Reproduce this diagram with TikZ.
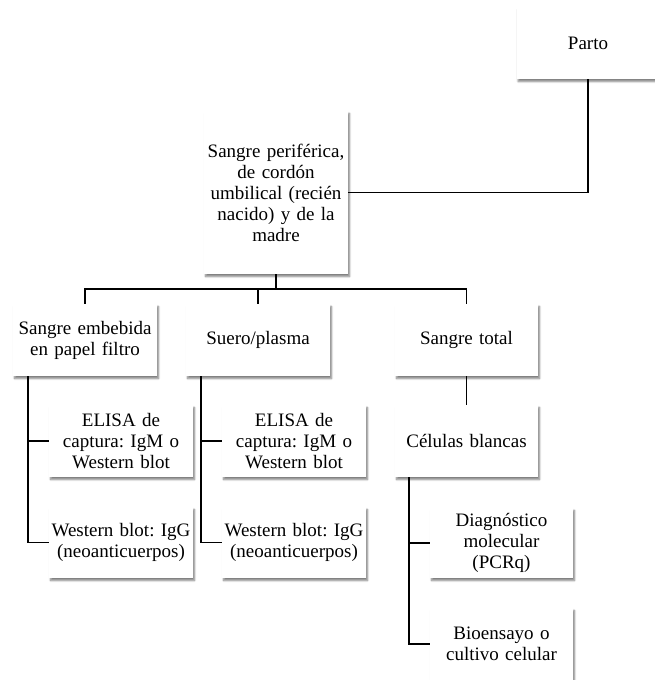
\documentclass[tikz,border=0pt]{standalone}
\usepackage{fontspec}
\setmainfont{Liberation Serif}
\usetikzlibrary{shadows.blur}
\frenchspacing
\begin{document}
\begin{tikzpicture}[x=1pt,y=-1pt,
  box/.style={rectangle, fill=white, inner sep=0pt, minimum width=144pt, minimum height=72pt,
    text width=143pt, align=center, font=\fontsize{19}{21}\selectfont\frenchspacing,
    blur shadow={shadow xshift=1.5pt, shadow yshift=-2.5pt, shadow blur steps=6, shadow blur extra rounding=0pt, shadow opacity=50}},
  link/.style={draw=black, line width=1.4pt}]
\useasboundingbox (0,0) rectangle (655,680);
\begin{scope}
\clip (0,0) rectangle (655,680);
% nodes
\node[box, minimum width=142pt] (parto) at (588,43) {Parto};
\node[box, minimum height=163pt] (main) at (276,192.5) {Sangre periférica,\\de cordón\\umbilical (recién\\nacido) y de la\\madre};
\node[box] (emb) at (85,340) {Sangre embebida\\en papel filtro};
\node[box] (suero) at (258,340) {Suero/plasma};
\node[box, minimum width=143pt] (total) at (466.5,340) {Sangre total};
\node[box, minimum width=143pt] (blancas) at (466.5,441) {Células blancas};
\node[box] (e1) at (121,441) {ELISA de\\captura: IgM o\\Western blot};
\node[box, minimum height=71pt] (e2) at (121,542.5) {Western blot: IgG\\(neoanticuerpos)};
\node[box] (s1) at (294,441) {ELISA de\\captura: IgM o\\Western blot};
\node[box, minimum height=71pt] (s2) at (294,542.5) {Western blot: IgG\\(neoanticuerpos)};
\node[box, minimum width=143pt, minimum height=70pt] (b1) at (501.5,543) {Diagnóstico\\molecular\\(PCRq)};
\node[box, minimum width=143pt] (b2) at (501.5,644) {Bioensayo o\\cultivo celular};
% connectors
\coordinate (bus) at (276,289);
\draw[link] (parto.south) |- (main.east);
\draw[link] (main.south) -- (bus);
\draw[link] (emb.north) |- (bus) -| (total.north);
\draw[link] (suero.north) -- (suero.north |- bus);
\draw[link] (total.south) -- (blancas.north);
\coordinate (ev) at ([xshift=15pt]emb.south west);
\draw[link] (ev) |- (e2.west);
\draw[link] (ev |- e1.west) -- (e1.west);
\coordinate (sv) at ([xshift=15pt]suero.south west);
\draw[link] (sv) |- (s2.west);
\draw[link] (sv |- s1.west) -- (s1.west);
\coordinate (bv) at ([xshift=14pt]blancas.south west);
\draw[link] (bv) |- (b2.west);
\draw[link] (bv |- b1.west) -- (b1.west);
\end{scope}
\end{tikzpicture}
\end{document}
